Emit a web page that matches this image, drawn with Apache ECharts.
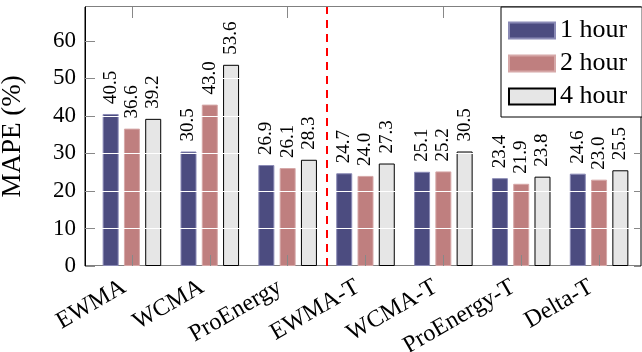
<!DOCTYPE html>
<html>
<head>
<meta charset="utf-8">
<script src="https://cdn.jsdelivr.net/npm/echarts@6/dist/echarts.min.js"></script>
<style>html,body{margin:0;padding:0;background:#fff;}#c{width:642px;height:352px;}</style>
</head>
<body>
<div id="c"></div>
<script>
const categories = ['EWMA', 'WCMA', 'ProEnergy', 'EWMA-T', 'WCMA-T', 'ProEnergy-T', 'Delta-T'];
const hour1 = [40.5, 30.5, 26.9, 24.7, 25.1, 23.4, 24.6];
const hour2 = [36.6, 43.0, 26.1, 24.0, 25.2, 21.9, 23.0];
const hour4 = [39.2, 53.6, 28.3, 27.3, 30.5, 23.8, 25.5];
const seriesNames = ['1 hour', '2 hour', '4 hour'];
const dividerAt = 2.5;
const yMin = 0, yMax = 69, yStep = 10;

const FONT = 'Liberation Serif';
const chart = echarts.init(document.getElementById('c'), null, {renderer: 'canvas'});

function barSeries(name, data, color, border) {
  return {
    name: name, type: 'bar', data: data,
    xAxisIndex: 1, yAxisIndex: 2,
    barWidth: 16, barGap: '33%',
    itemStyle: {color: color, borderColor: border, borderWidth: 1},
    z: 2
  };
}
// transparent twin bars on a hidden axis, only to carry the value labels above the white grid
function labelSeries(name, data) {
  return {
    name: name + ' labels', type: 'bar', data: data, silent: true,
    xAxisIndex: 4, yAxisIndex: 2,
    barWidth: 16, barGap: '33%',
    itemStyle: {color: 'rgba(0,0,0,0)', borderWidth: 0},
    label: {
      show: true, position: 'top', rotate: 90, align: 'left', verticalAlign: 'middle',
      distance: 10, fontFamily: FONT, fontSize: 19, color: '#000',
      formatter: p => p.value.toFixed(1)
    },
    z: 8
  };
}

const option = {
  animation: false,
  backgroundColor: '#fff',
  grid: [
    {left: 85, top: 7, right: 1, bottom: 86, show: true, borderColor: '#000', borderWidth: 1,
      backgroundColor: 'transparent', outerBoundsMode: 'none', containLabel: false},
    {left: 93, top: 7, right: 4, bottom: 86, outerBoundsMode: 'none', containLabel: false}
  ],
  xAxis: [
    {gridIndex: 0, type: 'value', min: 0, max: 1, show: false},
    {gridIndex: 1, type: 'category', data: categories, position: 'bottom', z: 5,
      axisLine: {show: false},
      axisTick: {show: true, inside: true, alignWithLabel: true, length: 11, lineStyle: {color: '#888'}},
      axisLabel: {rotate: 30, fontFamily: FONT, fontSize: 24, color: '#000', margin: 15, interval: 0,
        padding: [0, 9, 0, 0]}},
    {gridIndex: 1, type: 'category', data: categories, position: 'top', z: 5,
      axisLine: {show: false},
      axisTick: {show: true, inside: true, alignWithLabel: true, length: 11, lineStyle: {color: '#888'}},
      axisLabel: {show: false}},
    {gridIndex: 1, type: 'value', min: -0.5, max: 6.5, show: false},
    {gridIndex: 1, type: 'category', data: categories, show: false}
  ],
  yAxis: [
    {gridIndex: 0, type: 'value', min: yMin, max: yMax, interval: yStep, z: 5,
      axisLine: {show: true, lineStyle: {color: '#000'}},
      axisTick: {show: true, inside: true, length: 10, lineStyle: {color: '#888'}},
      splitLine: {show: true, lineStyle: {color: '#fff', width: 1}},
      axisLabel: {showMaxLabel: false, fontFamily: FONT, fontSize: 23, color: '#000', margin: 9},
      name: 'MAPE (%)', nameLocation: 'middle', nameGap: 59,
      nameTextStyle: {fontFamily: FONT, fontSize: 27, color: '#000'}},
    {gridIndex: 0, type: 'value', position: 'right', min: yMin, max: yMax, interval: yStep, z: 5,
      axisLine: {show: false},
      axisTick: {show: true, inside: true, length: 7, lineStyle: {color: '#888'}},
      axisLabel: {show: false}, splitLine: {show: false}},
    {gridIndex: 1, type: 'value', min: yMin, max: yMax, show: false}
  ],
  legend: {
    data: seriesNames, orient: 'vertical', left: 501, top: 7, icon: 'rect',
    padding: [10, 15, 7, 7], itemWidth: 46, itemHeight: 16, itemGap: 6,
    textStyle: {fontFamily: FONT, fontSize: 26, color: '#000', lineHeight: 27},
    borderColor: '#000', borderWidth: 1, backgroundColor: '#fff', borderRadius: 0, z: 10
  },
  series: [
    barSeries(seriesNames[0], hour1, '#4c4c80', '#8a8ab5'),
    barSeries(seriesNames[1], hour2, '#bf7f7f', '#d6a8a8'),
    barSeries(seriesNames[2], hour4, '#e6e6e6', '#000'),
    labelSeries(seriesNames[0], hour1),
    labelSeries(seriesNames[1], hour2),
    labelSeries(seriesNames[2], hour4),
    {type: 'line', xAxisIndex: 3, yAxisIndex: 2, data: [[dividerAt, 0]], showSymbol: false, symbolSize: 0,
      lineStyle: {opacity: 0}, z: 3,
      markLine: {silent: true, symbol: ['none', 'none'], label: {show: false},
        lineStyle: {color: '#ff0000', type: [8, 6], width: 2},
        data: [{xAxis: dividerAt}]}}
  ]
};
chart.setOption(option);
</script>
</body>
</html>
